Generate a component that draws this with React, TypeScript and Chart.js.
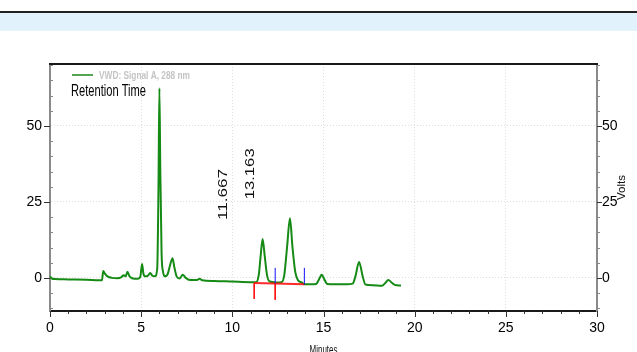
import React, { useEffect, useRef } from 'react';
import { Chart, registerables } from 'chart.js';
Chart.register(...registerables);

// ---- data ----
const traceTimes = [
  0.0, 0.1, 0.3, 1.0, 2.0, 2.7, 2.85, 2.92, 3.0, 3.15, 3.4, 3.7, 3.9, 4.05, 4.15, 4.25, 4.35, 4.5, 4.8, 4.95,
  5.05, 5.12, 5.2, 5.35, 5.5, 5.6, 5.75, 5.88, 5.95, 6.0, 6.05, 6.12, 6.2, 6.3, 6.45, 6.6, 6.72, 6.82, 6.95, 7.1,
  7.28, 7.45, 7.6, 7.9, 8.1, 8.2, 8.35, 9.0, 10.0, 11.0, 11.3, 11.45, 11.55, 11.66, 11.78, 11.9, 12.05, 12.4, 12.7, 12.85,
  13.0, 13.16, 13.3, 13.45, 13.6, 13.8, 13.95, 14.3, 14.6, 14.75, 14.9, 15.05, 15.2, 15.6, 16.3, 16.6, 16.75, 16.95, 17.15, 17.3,
  17.7, 18.2, 18.4, 18.55, 18.75, 18.9, 19.25,
];
const traceVolts = [
  0.5, -0.2, -0.4, -0.5, -0.6, -0.8, -0.8, 2.3, 1.5, 0.5, 0.0, -0.1, 0.2, 0.9, 0.5, 2.0, 0.6, -0.1, -0.3, 0.3,
  4.6, 1.5, 0.5, 0.6, 1.6, 0.8, 0.5, 3.0, 30, 62.4, 35, 8, 2.0, 0.5, 1.2, 4.5, 6.5, 3.5, 0.4, -0.2,
  1.0, 0.0, -0.6, -0.7, -0.6, -0.3, -0.8, -1.0, -1.2, -1.4, -1.4, 1.0, 7, 12.8, 7, 1.0, -1.2, -1.5, -1.4, 1.0,
  10, 19.6, 10, 2.0, -0.8, -1.5, -2.1, -2.1, -2.0, -0.5, 1.0, -0.5, -2.0, -2.1, -2.1, -1.9, 0.5, 5.2, 0.5, -2.2,
  -2.4, -2.6, -1.6, -0.7, -1.6, -2.3, -2.5,
];
const peakTimes = [11.667, 13.163];
const peakHeights = [12.8, 19.6];
const peakLabels = ['11.667', '13.163'];
const baselineTimes = [11.2, 13.95];
const baselineVolts = [-1.7, -2.1];
const redMarkTimes = [11.2, 12.35];
const redMarkFrom = [-1.7, -1.9];
const redMarkTo = [-6.9, -7.2];
const blueMarkTimes = [12.35, 13.95];
const blueMarkFrom = [-1.9, -2.1];
const blueMarkTo = [3.3, 3.3];
const xTickValues = [0, 5, 10, 15, 20, 25, 30];
const yTickValues = [0, 25, 50];
const X_MIN = 0;
const X_MAX = 30;
const Y_MIN = -10.9;
const Y_MAX = 70.4;
const seriesName = 'VWD: Signal A, 288 nm';

const NARROW = '"Liberation Sans Narrow", "Liberation Sans", Arial, sans-serif';
const SANS = '"Liberation Sans", Arial, sans-serif';
const GRID = '#dedede';

function drawFitText(ctx: CanvasRenderingContext2D, text: string, x: number, y: number, font: string,
  targetWidth: number, color: string, align: CanvasTextAlign, baseline: CanvasTextBaseline, rotate = 0) {
  ctx.save();
  ctx.font = font;
  ctx.fillStyle = color;
  const w = ctx.measureText(text).width || 1;
  ctx.translate(x, y);
  if (rotate) ctx.rotate(rotate);
  ctx.scale(targetWidth / w, 1);
  ctx.textAlign = align;
  ctx.textBaseline = baseline;
  ctx.fillText(text, 0, 0);
  ctx.restore();
}

const decor = {
  id: 'decor',
  afterDraw(chart: any) {
    const { ctx, chartArea } = chart;
    const xs = chart.scales.x;
    const ys = chart.scales.y;
    ctx.save();
    // top frame
    ctx.strokeStyle = '#1a1a1a';
    ctx.lineWidth = 2;
    ctx.beginPath();
    ctx.moveTo(chartArea.left - 1, chartArea.top);
    ctx.lineTo(chartArea.right + 1, chartArea.top);
    ctx.stroke();

    // x ticks
    ctx.lineWidth = 1;
    ctx.strokeStyle = '#333';
    for (let v = X_MIN; v <= X_MAX; v += 1) {
      const px = Math.round(xs.getPixelForValue(v)) + 0.5;
      const len = v % 5 === 0 ? 6 : 3;
      ctx.beginPath();
      ctx.moveTo(px, chartArea.bottom);
      ctx.lineTo(px, chartArea.bottom + len);
      ctx.stroke();
    }
    // y ticks (left and right)
    for (let v = -10; v <= 70; v += 5) {
      const py = Math.round(ys.getPixelForValue(v)) + 0.5;
      const major = v % 25 === 0;
      ctx.strokeStyle = major ? '#333' : '#888';
      ctx.beginPath();
      if (major) {
        ctx.moveTo(chartArea.left - 6, py); ctx.lineTo(chartArea.left, py);
        ctx.moveTo(chartArea.right, py); ctx.lineTo(chartArea.right + 5, py);
      } else {
        ctx.moveTo(chartArea.left, py); ctx.lineTo(chartArea.left + 3, py);
        ctx.moveTo(chartArea.right, py); ctx.lineTo(chartArea.right + 3, py);
      }
      ctx.stroke();
    }

    // legend
    ctx.strokeStyle = '#1a8a1a';
    ctx.lineWidth = 1.5;
    ctx.beginPath();
    ctx.moveTo(72, 75); ctx.lineTo(93, 75);
    ctx.stroke();
    drawFitText(ctx, seriesName, 99, 75.5, `bold 11.5px ${NARROW}`, 91, '#c4c4c4', 'left', 'middle');
    drawFitText(ctx, 'Retention Time', 71, 91.5, `17px ${NARROW}`, 75, '#000', 'left', 'middle');

    // peak labels
    peakLabels.forEach((lab, i) => {
      const px = xs.getPixelForValue(peakTimes[i]) - 39.5;
      const py = ys.getPixelForValue(peakHeights[i]) - 19;
      drawFitText(ctx, lab, px, py, `12.5px ${SANS}`, 51, '#111', 'left', 'middle', -Math.PI / 2);
    });

    // axis titles
    drawFitText(ctx, 'Volts', 622, 187.5, `11px ${SANS}`, 25, '#111', 'center', 'middle', -Math.PI / 2);
    drawFitText(ctx, 'Minutes', (chartArea.left + chartArea.right) / 2, 344, `13px ${NARROW}`, 28, '#111', 'center', 'top');
    ctx.restore();
  },
};

export default function App() {
  const ref = useRef<HTMLCanvasElement | null>(null);
  useEffect(() => {
    if (!ref.current) return;
    const markSets: any[] = [];
    redMarkTimes.forEach((t, i) => {
      markSets.push({
        data: [{ x: t, y: redMarkFrom[i] }, { x: t, y: redMarkTo[i] }],
        borderColor: '#ff1010', borderWidth: 1, pointRadius: 0,
      });
    });
    blueMarkTimes.forEach((t, i) => {
      markSets.push({
        data: [{ x: t, y: blueMarkFrom[i] }, { x: t, y: blueMarkTo[i] }],
        borderColor: '#1010ff', borderWidth: 1, pointRadius: 0,
      });
    });
    const chart = new Chart(ref.current, {
      type: 'line',
      data: {
        datasets: [
          ...markSets,
          {
            label: 'baseline',
            data: baselineTimes.map((t, i) => ({ x: t, y: baselineVolts[i] })),
            borderColor: 'rgba(255,20,20,0.9)', borderWidth: 2, pointRadius: 0,
          },
          {
            label: seriesName,
            data: traceTimes.map((t, i) => ({ x: t, y: traceVolts[i] })),
            borderColor: '#158a15', borderWidth: 2, pointRadius: 0,
            cubicInterpolationMode: 'monotone',
          },
        ],
      },
      options: {
        animation: false,
        responsive: false,
        maintainAspectRatio: false,
        layout: { padding: { top: 64, left: 0, right: 0, bottom: 0 } },
        plugins: { legend: { display: false }, tooltip: { enabled: false } },
        scales: {
          x: {
            type: 'linear', position: 'bottom', min: X_MIN, max: X_MAX,
            afterFit: (s: any) => { s.height = 41; },
            afterBuildTicks: (s: any) => { s.ticks = xTickValues.map((v) => ({ value: v })); },
            grid: {
              color: (c: any) => (c.tick && c.tick.value > X_MIN && c.tick.value < X_MAX ? GRID : 'transparent'),
              lineWidth: 1, drawTicks: true, tickLength: 6, tickColor: 'transparent',
            },
            border: { display: true, color: '#1a1a1a', width: 2, dash: [1, 2] },
            ticks: {
              autoSkip: false, maxRotation: 0, padding: 3, color: '#000',
              font: { family: NARROW, size: 14 },
              callback: (v: any) => String(v),
            },
          },
          y: {
            type: 'linear', position: 'left', min: Y_MIN, max: Y_MAX,
            afterFit: (s: any) => { s.width = 50; },
            afterBuildTicks: (s: any) => { s.ticks = yTickValues.map((v) => ({ value: v })); },
            grid: { color: GRID, lineWidth: 1, drawTicks: true, tickLength: 6, tickColor: 'transparent' },
            border: { display: true, color: '#8a8a8a', width: 2, dash: [1, 2] },
            ticks: {
              padding: 2, color: '#000', font: { family: NARROW, size: 14 },
              callback: (v: any) => String(v),
            },
          },
          y2: {
            type: 'linear', position: 'right', min: Y_MIN, max: Y_MAX,
            afterFit: (s: any) => { s.width = 40; },
            afterBuildTicks: (s: any) => { s.ticks = yTickValues.map((v) => ({ value: v })); },
            grid: { drawOnChartArea: false, drawTicks: true, tickLength: 5, tickColor: 'transparent' },
            border: { display: true, color: '#8a8a8a', width: 2 },
            ticks: {
              padding: 0, color: '#000', font: { family: NARROW, size: 14 },
              callback: (v: any) => String(v),
            },
          },
        },
      },
      plugins: [decor],
    } as any);
    return () => chart.destroy();
  }, []);

  return (
    <div style={{ position: 'fixed', left: 0, top: 0, width: 637, height: 352, overflow: 'hidden', background: '#fff' }}>
      <div style={{ position: 'absolute', left: 0, top: 11, width: 637, height: 1.5, background: '#222' }} />
      <div style={{ position: 'absolute', left: 0, top: 12.5, width: 637, height: 18.5, background: '#e1f2fc' }} />
      <canvas ref={ref} width={637} height={352} style={{ position: 'absolute', left: 0, top: 0, width: 637, height: 352 }} />
    </div>
  );
}
